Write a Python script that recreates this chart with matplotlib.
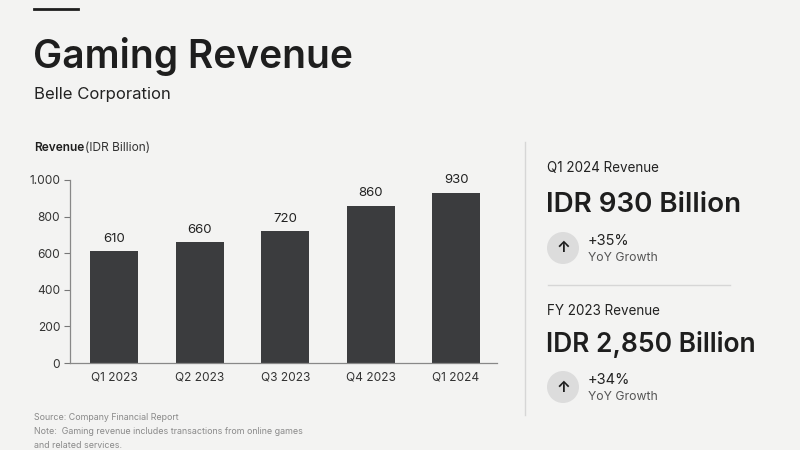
import matplotlib.pyplot as plt
from matplotlib.patches import Circle
from matplotlib.lines import Line2D

# data
quarters = ["Q1 2023", "Q2 2023", "Q3 2023", "Q4 2023", "Q1 2024"]
revenue = [610, 660, 720, 860, 930]
y_ticks = [0, 200, 400, 600, 800, 1000]
y_tick_labels = ["0", "200", "400", "600", "800", "1.000"]

kpi_titles = ["Q1 2024 Revenue", "FY 2023 Revenue"]
kpi_values = ["IDR 930 Billion", "IDR 2,850 Billion"]
kpi_growth = ["+35%", "+34%"]

plt.rcParams['font.family'] = ['Inter', 'DejaVu Sans']

W, H = 800, 450
bg = "#f3f3f2"
dark = "#1e1e1e"
bar_color = "#3b3c3e"

fig = plt.figure(figsize=(8, 4.5), dpi=100, facecolor=bg)


def fx(px):
    return px / W


def fy(py):
    return 1 - py / H


# header
fig.add_artist(Line2D([fx(34), fx(78)], [fy(9), fy(9)], color=dark, lw=2))
fig.text(fx(33), fy(56), "Gaming Revenue", fontsize=28, fontweight="semibold",
         color=dark, va="center")
fig.text(fx(34), fy(94), "Belle Corporation", fontsize=12, color="#222222", va="center")

# axis title
fig.text(fx(34), fy(148), "Revenue", fontsize=8.6, fontweight="semibold", color=dark, va="center")
fig.text(fx(85), fy(148), "(IDR Billion)", fontsize=8.6, color="#333333", va="center")

# bar chart
ax = fig.add_axes([fx(70), fy(363), fx(497) - fx(70), fy(180) - fy(363)])
ax.set_facecolor("none")
x = range(len(quarters))
bars = ax.bar(x, revenue, width=0.56, color=bar_color)
for b, v in zip(bars, revenue):
    ax.text(b.get_x() + b.get_width() / 2, v + 35, str(v), ha="center", va="bottom",
            fontsize=9.5, color="#222222")
ax.set_xlim(-0.52, 4.48)
ax.set_ylim(0, 1000)
ax.set_yticks(y_ticks)
ax.set_yticklabels(y_tick_labels)
ax.set_xticks(list(x))
ax.set_xticklabels(quarters)
ax.tick_params(axis="y", length=4, width=0.8, color="#777777", labelsize=8.6,
               labelcolor="#333333", pad=3)
ax.tick_params(axis="x", length=0, labelsize=8.6, labelcolor="#333333", pad=6)
for s in ["top", "right"]:
    ax.spines[s].set_visible(False)
for s in ["left", "bottom"]:
    ax.spines[s].set_color("#888888")
    ax.spines[s].set_linewidth(0.9)

# right panel
fig.add_artist(Line2D([fx(525), fx(525)], [fy(142), fy(415)], color="#d6d6d6", lw=1))
fig.add_artist(Line2D([fx(548), fx(730)], [fy(285), fy(285)], color="#d6d6d6", lw=1))

title_y = [168, 311]
value_y = [205, 345]
circ_y = [248, 387]
value_size = [20, 19]
for i in range(2):
    fig.text(fx(547), fy(title_y[i]), kpi_titles[i], fontsize=9.7, color="#222222", va="center")
    fig.text(fx(546), fy(value_y[i]), kpi_values[i], fontsize=value_size[i], fontweight="semibold",
             color=dark, va="center")
    circ = Circle((563 / 100, (H - circ_y[i]) / 100), radius=0.16,
                  transform=fig.dpi_scale_trans, facecolor="#dcdcdc", edgecolor="none")
    fig.add_artist(circ)
    fig.text(fx(563), fy(circ_y[i]), "↑", fontsize=11, fontweight="bold", color=dark,
             ha="center", va="center")
    fig.text(fx(588), fy(circ_y[i] - 7), kpi_growth[i], fontsize=10.5, color="#222222", va="center")
    fig.text(fx(588), fy(circ_y[i] + 10), "YoY Growth", fontsize=8.8, color="#555555", va="center")

# footer
foot = "#8a8a8a"
fig.text(fx(34), fy(417), "Source: Company Financial Report", fontsize=6.4, color=foot, va="center")
fig.text(fx(34), fy(431), "Note:  Gaming revenue includes transactions from online games",
         fontsize=6.4, color=foot, va="center")
fig.text(fx(34), fy(445), "and related services.", fontsize=6.4, color=foot, va="center")

fig.savefig("out.png", dpi=100, facecolor=bg)
